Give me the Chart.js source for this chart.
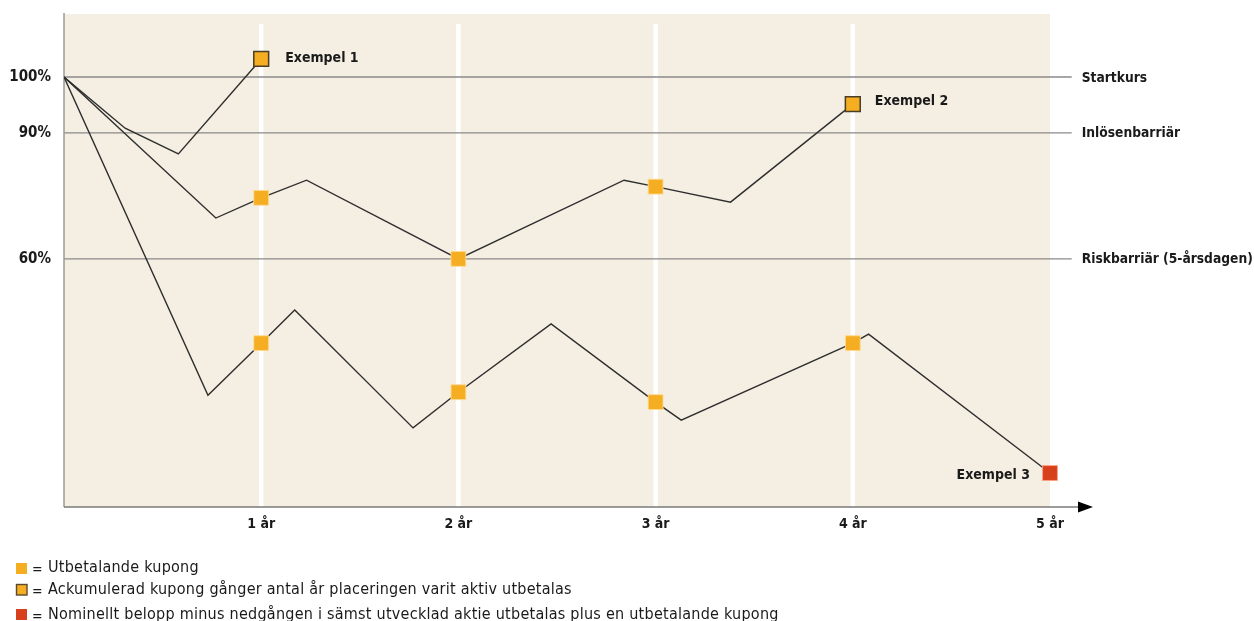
<!DOCTYPE html>
<html>
<head>
<meta charset="utf-8">
<script src="https://cdn.jsdelivr.net/npm/chart.js@4.4.1/dist/chart.umd.min.js"></script>
<style>
  html, body { margin: 0; padding: 0; background: #fff; }
  #wrap { width: 1254px; height: 621px; }
</style>
</head>
<body>
<div id="wrap"><canvas id="chart" width="1254" height="621"></canvas></div>
<script>
// schematic level (100 = startkurs), x in years
const ex1X = [0, 0.31, 0.58, 1];
const ex1Y = [100, 88.1, 82.1, 104.2];
const ex2X = [0, 0.77, 1, 1.23, 2, 2.84, 3, 3.38, 4];
const ex2Y = [100, 67.2, 71.9, 76.0, 57.7, 76.0, 74.5, 70.9, 93.7];
const ex3X = [0, 0.73, 1, 1.17, 1.77, 2, 2.47, 3, 3.13, 4, 4.08, 5];
const ex3Y = [100, 26.0, 38.1, 45.8, 18.4, 26.7, 42.6, 24.4, 20.2, 38.1, 40.2, 7.9];

const yearTicks = [1, 2, 3, 4, 5];
const yearLabels = ['1 år', '2 år', '3 år', '4 år', '5 år'];

const refLevels = [100, 87, 57.7];
const refTickLabels = ['100%', '90%', '60%'];
const refNames = ['Startkurs', 'Inlösenbarriär', 'Riskbarriär (5-årsdagen)'];

const exampleNames = ['Exempel 1', 'Exempel 2', 'Exempel 3'];

// which years get which marker: [series index, year]
const couponMarks = [[1, 1], [1, 2], [1, 3], [2, 1], [2, 2], [2, 3], [2, 4]];
const accumMarks = [[0, 1], [1, 4]];
const nominalMarks = [[2, 5]];

const legendTexts = [
  'Utbetalande kupong',
  'Ackumulerad kupong gånger antal år placeringen varit aktiv utbetalas',
  'Nominellt belopp minus nedgången i sämst utvecklad aktie utbetalas plus en utbetalande kupong'
];

const FONT = '"DejaVu Sans Condensed", "DejaVu Sans", sans-serif';
const BEIGE = '#f4efe2';
const ORANGE = '#f5ad22';
const RED = '#d6401a';
const LINE = '#2e2e2e';
const GRAY = '#8a8a8a';

const seriesX = [ex1X, ex2X, ex3X];
const seriesY = [ex1Y, ex2Y, ex3Y];

const toPoints = (xs, ys) => xs.map((x, i) => ({ x: x, y: ys[i] }));
const markPoints = (marks) => marks.map(([s, yr]) => {
  const i = seriesX[s].indexOf(yr);
  return { x: yr, y: seriesY[s][i] };
});

const lineSet = (xs, ys) => ({
  data: toPoints(xs, ys),
  showLine: true,
  borderColor: LINE,
  borderWidth: 1.4,
  pointRadius: 0,
  fill: false,
  order: 2
});

const markSet = (marks, fill, border, bw) => ({
  data: markPoints(marks),
  showLine: false,
  pointStyle: 'rect',
  pointRadius: 10.5,
  pointBackgroundColor: fill,
  pointBorderColor: border,
  pointBorderWidth: bw,
  order: 1
});

const backdrop = {
  id: 'backdrop',
  beforeDatasetsDraw(chart) {
    const { ctx, chartArea: a, scales: { x, y } } = chart;
    const x0 = x.getPixelForValue(0);
    const x5 = x.getPixelForValue(5);
    ctx.save();
    ctx.fillStyle = BEIGE;
    ctx.fillRect(x0, a.top, x5 - x0, a.bottom - a.top);
    // white year lines
    ctx.strokeStyle = '#ffffff';
    ctx.lineWidth = 4.5;
    for (let k = 1; k <= 4; k++) {
      const px = x.getPixelForValue(k);
      ctx.beginPath();
      ctx.moveTo(px, a.top + 10);
      ctx.lineTo(px, a.bottom);
      ctx.stroke();
    }
    // reference lines
    ctx.strokeStyle = GRAY;
    ctx.lineWidth = 1.4;
    refLevels.forEach((v) => {
      const py = y.getPixelForValue(v);
      ctx.beginPath();
      ctx.moveTo(x0, py);
      ctx.lineTo(x.getPixelForValue(5.11), py);
      ctx.stroke();
    });
    // y axis line
    ctx.strokeStyle = '#9a9a9a';
    ctx.lineWidth = 1.5;
    ctx.beginPath();
    ctx.moveTo(x0, a.top - 1);
    ctx.lineTo(x0, a.bottom);
    ctx.stroke();
    // x axis with arrow
    ctx.strokeStyle = '#7a7a7a';
    ctx.beginPath();
    ctx.moveTo(x0, a.bottom);
    ctx.lineTo(a.right - 12, a.bottom);
    ctx.stroke();
    ctx.fillStyle = '#000';
    ctx.beginPath();
    ctx.moveTo(a.right, a.bottom);
    ctx.lineTo(a.right - 15, a.bottom - 5.5);
    ctx.lineTo(a.right - 15, a.bottom + 5.5);
    ctx.closePath();
    ctx.fill();
    ctx.restore();
  },
  afterDraw(chart) {
    const { ctx, scales: { x, y } } = chart;
    ctx.save();
    ctx.fillStyle = '#1a1a1a';
    ctx.textBaseline = 'middle';
    // right-side reference names
    ctx.font = 'bold 13.7px ' + FONT;
    ctx.textAlign = 'left';
    refNames.forEach((n, i) => {
      ctx.fillText(n, x.getPixelForValue(5.11) + 10, y.getPixelForValue(refLevels[i]) + 1);
    });
    // example labels
    ctx.font = 'bold 14px ' + FONT;
    const a1 = markPoints([accumMarks[0]])[0];
    ctx.fillText(exampleNames[0], x.getPixelForValue(a1.x) + 24, y.getPixelForValue(a1.y) - 1);
    const a2 = markPoints([accumMarks[1]])[0];
    ctx.fillText(exampleNames[1], x.getPixelForValue(a2.x) + 22, y.getPixelForValue(a2.y) - 3);
    const n3 = markPoints(nominalMarks)[0];
    ctx.textAlign = 'right';
    ctx.fillText(exampleNames[2], x.getPixelForValue(n3.x) - 20, y.getPixelForValue(n3.y) + 2);
    // legend
    const iconTops = [563, 584, 609];
    const textMid = [568, 590, 615];
    const swatch = [
      { fill: ORANGE, border: null },
      { fill: ORANGE, border: '#5a4a30' },
      { fill: RED, border: null }
    ];
    ctx.textAlign = 'left';
    legendTexts.forEach((t, i) => {
      const top = iconTops[i];
      ctx.fillStyle = swatch[i].fill;
      ctx.fillRect(16, top, 11, 11);
      if (swatch[i].border) {
        ctx.strokeStyle = swatch[i].border;
        ctx.lineWidth = 1.4;
        ctx.strokeRect(16.5, top + 0.5, 10.5, 10.5);
      }
      ctx.fillStyle = '#1a1a1a';
      ctx.font = '14px ' + FONT;
      ctx.letterSpacing = '0px';
      ctx.fillText('=', 32, textMid[i] + 2);
      ctx.font = '16px ' + FONT;
      ctx.letterSpacing = '0.25px';
      ctx.fillText(t, 48, textMid[i]);
    });
    ctx.restore();
  }
};

new Chart(document.getElementById('chart'), {
  type: 'scatter',
  data: {
    datasets: [
      lineSet(ex1X, ex1Y),
      lineSet(ex2X, ex2Y),
      lineSet(ex3X, ex3Y),
      markSet(couponMarks, ORANGE, 'rgba(255,220,150,0.9)', 1),
      markSet(accumMarks, ORANGE, '#4a3c25', 1.5),
      markSet(nominalMarks, RED, 'rgba(255,160,130,0.9)', 1)
    ]
  },
  options: {
    responsive: false,
    animation: false,
    layout: { padding: { top: 14, right: 161, left: 0, bottom: 0 } },
    plugins: {
      legend: { display: false },
      tooltip: { enabled: false }
    },
    scales: {
      x: {
        type: 'linear',
        min: 0,
        max: 5.218,
        grid: { display: false, drawTicks: false },
        border: { display: false },
        afterFit: (s) => { s.height = 114; s.paddingLeft = 0; s.paddingRight = 0; },
        afterBuildTicks: (s) => { s.ticks = yearTicks.map((v) => ({ value: v })); },
        ticks: {
          padding: 9,
          color: '#1a1a1a',
          font: { family: FONT, size: 14, weight: 'bold' },
          callback: (v) => yearLabels[yearTicks.indexOf(v)]
        }
      },
      y: {
        min: 0,
        max: 114.65,
        grid: { display: false, drawTicks: false },
        border: { display: false },
        afterFit: (s) => { s.width = 64; s.paddingTop = 0; s.paddingBottom = 0; },
        afterBuildTicks: (s) => { s.ticks = refLevels.map((v) => ({ value: v })); },
        ticks: {
          padding: 13,
          color: '#1a1a1a',
          font: { family: FONT, size: 15, weight: 'bold' },
          callback: (v) => refTickLabels[refLevels.indexOf(v)]
        }
      }
    }
  },
  plugins: [backdrop]
});
</script>
</body>
</html>
